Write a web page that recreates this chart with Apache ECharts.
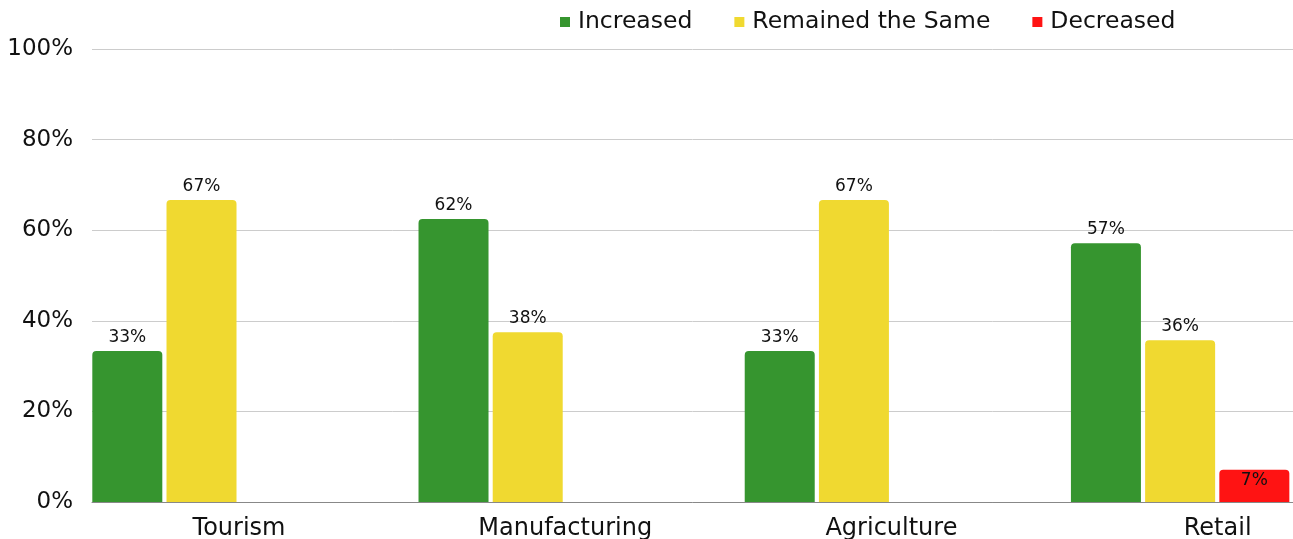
<!DOCTYPE html>
<html>
<head>
  <meta charset="utf-8">
  <script src="https://cdn.jsdelivr.net/npm/echarts@6/dist/echarts.min.js"></script>
  <style>
    html, body { margin: 0; padding: 0; background: #fff; }
  </style>
</head>
<body>
  <div id="main" style="width: 1293px;height:539px;"></div>
  <script type="text/javascript">

  var sectors = ['Tourism', 'Manufacturing', 'Agriculture', 'Retail'];
  var increased = [33.33, 62.5, 33.33, 57.14];
  var remained = [66.67, 37.5, 66.67, 35.71];
  var decreased = [null, null, null, 7.14];
  var yTicks = [0, 20, 40, 60, 80, 100];

  // spreadsheet style rounding (half to even)
  function pct(v) {
    var r = Math.round(v);
    if (Math.abs(v - Math.floor(v) - 0.5) < 1e-9 && r % 2) r -= 1;
    return r + '%';
  }

  function pairs(arr) {
    var out = [];
    for (var i = 0; i < arr.length; i++) {
      if (arr[i] != null) out.push([i, arr[i]]);
    }
    return out;
  }

  var font = 'DejaVu Sans';
  var labelShift = 0.115;
  var labelPos = sectors.map(function (s, i) { return i + labelShift; });

  var myChart = echarts.init(document.getElementById('main'));

  var barLabel = {
    show: true,
    position: 'top',
    distance: 5,
    color: '#111',
    fontSize: 17,
    fontFamily: font,
    formatter: function (p) { return pct(p.value[1]); }
  };

  option = {
    animation: false,
    legend: {
      left: 555,
      top: 5,
      icon: 'rect',
      itemWidth: 10,
      itemHeight: 10,
      itemGap: 42,
      textStyle: {
        fontSize: 23.5,
        fontFamily: font,
        color: '#111',
        padding: [0, 0, 0, 3]
      },
      data: ['Increased', 'Remained the Same', 'Decreased']
    },
    grid: {
      left: 92,
      right: 0,
      top: 49,
      bottom: 37,
      outerBoundsMode: 'none'
    },
    xAxis: {
      type: 'value',
      min: -0.3357,
      max: 3.346,
      splitLine: { show: false },
      axisTick: { show: false },
      axisLine: { show: true, lineStyle: { color: '#888', width: 1 } },
      axisLabel: {
        customValues: labelPos,
        margin: 15,
        fontSize: 24,
        fontFamily: font,
        color: '#111',
        formatter: function (v) { return sectors[Math.round(v - labelShift)]; }
      }
    },
    yAxis: {
      type: 'value',
      min: yTicks[0],
      max: yTicks[yTicks.length - 1],
      interval: 20,
      axisLine: { show: false },
      axisTick: { show: false },
      splitLine: { lineStyle: { color: '#cccccc' } },
      axisLabel: {
        margin: 19,
        fontSize: 23,
        fontFamily: font,
        color: '#111',
        formatter: '{value}%'
      }
    },
    series: [{
      name: 'Increased',
      type: 'bar',
      barWidth: 70,
      barGap: '6%',
      itemStyle: { color: '#36952f', borderRadius: [4, 4, 0, 0] },
      label: barLabel,
      data: pairs(increased)
    }, {
      name: 'Remained the Same',
      type: 'bar',
      barWidth: 70,
      barGap: '6%',
      itemStyle: { color: '#f0d930', borderRadius: [4, 4, 0, 0] },
      label: barLabel,
      data: pairs(remained)
    }, {
      name: 'Decreased',
      type: 'bar',
      barWidth: 70,
      barGap: '6%',
      itemStyle: { color: '#ff1313', borderRadius: [4, 4, 0, 0] },
      label: Object.assign({}, barLabel, { position: 'insideTop', distance: 2 }),
      data: pairs(decreased)
    }]
  };

  myChart.setOption(option);

  </script>
</body>
</html>
